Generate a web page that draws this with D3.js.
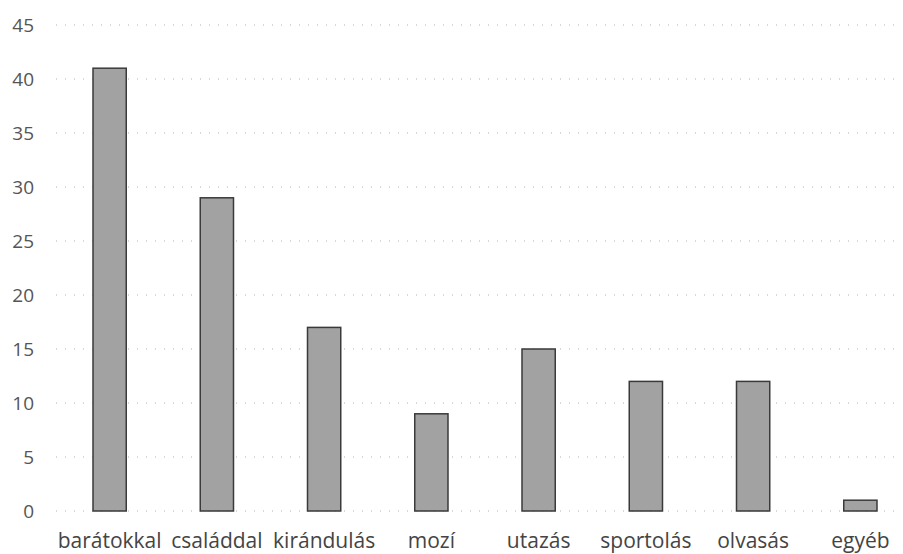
<!DOCTYPE html>
<html><head><meta charset="utf-8">
<script src="https://cdn.jsdelivr.net/npm/d3@7"></script>
<style>body{margin:0;background:#fff}svg{display:block}</style>
</head><body>
<svg id="c" width="903" height="554"></svg>
<script>
const categories = ["barátokkal","családdal","kirándulás","mozí","utazás","sportolás","olvasás","egyéb"];
const values = [41, 29, 17, 9, 15, 12, 12, 1];
const yTicks = [0,5,10,15,20,25,30,35,40,45];

const svg = d3.select("#c");
const x = d3.scaleBand().domain(categories).range([56, 914]).paddingInner(0.69).paddingOuter(0.345);
const y = d3.scaleLinear().domain([0,45]).range([511, 25]);

// gridlines
svg.append("g").selectAll("line").data(yTicks).join("line")
  .attr("x1", 56).attr("x2", 900)
  .attr("y1", d=>y(d)).attr("y2", d=>y(d))
  .attr("stroke", "#b0b0b0").attr("stroke-width", 1).attr("stroke-dasharray", "1,8");

// y axis
const ya = svg.append("g").attr("transform","translate(34,0)")
  .call(d3.axisLeft(y).tickValues(yTicks).tickSize(0).tickPadding(0));
ya.select(".domain").remove();
ya.selectAll("text").attr("font-family","'Open Sans', sans-serif").attr("font-size",19).attr("fill","#555");

// bars
svg.append("g").selectAll("rect").data(values).join("rect")
  .attr("x", (d,i)=>x(categories[i]))
  .attr("width", x.bandwidth())
  .attr("y", d=>y(d))
  .attr("height", d=>y(0)-y(d))
  .attr("fill","#a2a2a2").attr("stroke","#3a3a3a").attr("stroke-width",1.5);

// x axis labels
const xa = svg.append("g").attr("transform","translate(0,533)")
  .call(d3.axisBottom(x).tickSize(0).tickPadding(0));
xa.select(".domain").remove();
xa.selectAll("text").attr("font-family","'Open Sans', sans-serif").attr("font-size",21).attr("fill","#444");
</script>
</body></html>
